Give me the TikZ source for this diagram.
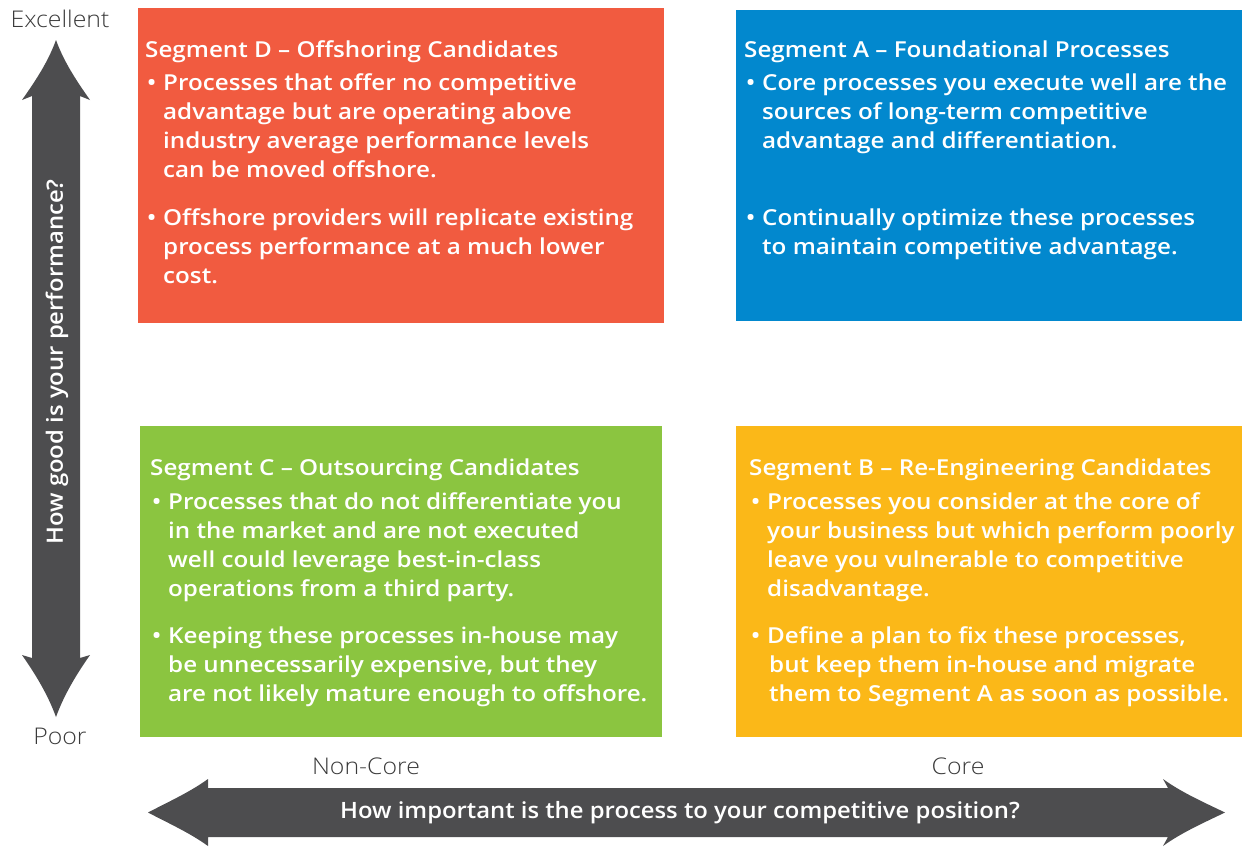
\documentclass[tikz,border=0pt]{standalone}
\usepackage{fontspec}
\setmainfont{Open Sans}
% Box text: a medium-heavy, slightly widened face
\IfFontExistsTF{Open Sans Semibold}
  {\newfontfamily\boxfont{Open Sans Semibold}[FakeStretch=1.1]}
  {\newfontfamily\boxfont{Open Sans Bold}[FakeStretch=1.1]}
% Axis questions
\IfFontExistsTF{Open Sans Semibold}
  {\newfontfamily\axisfont{Open Sans Semibold}[FakeStretch=1.06]}
  {\newfontfamily\axisfont{Open Sans}[FakeStretch=1.06]}
% Thin scale labels
\IfFontExistsTF{Open Sans Light}
  {\newfontfamily\thinfont{Open Sans Light}[FakeStretch=1.08]}
  {\newfontfamily\thinfont{Lato Light}[FakeStretch=1.08]}

\definecolor{segD}{HTML}{F15B40}
\definecolor{segA}{HTML}{0288CE}
\definecolor{segC}{HTML}{8BC540}
\definecolor{segB}{HTML}{FBB818}
\definecolor{axisgray}{HTML}{4D4D4F}
\definecolor{labelgray}{HTML}{3A3A3A}

% bullet item lines
\newlength{\bulind}
\setlength{\bulind}{18pt}
\newcommand{\bul}{\hspace*{2pt}\makebox[\dimexpr\bulind-2pt\relax][l]{\textbullet}}
\newcommand{\ind}{\hspace*{\bulind}}
\newcommand{\seglines}[1]{\vtop{\baselineskip=29pt\lineskiplimit=-100pt\lineskip=0pt #1}}

\begin{document}
\begin{tikzpicture}[x=1pt,y=-1pt,
  segbox/.style={draw=none,inner sep=0pt,anchor=north west},
  segtext/.style={inner sep=0pt,anchor=base west,text=white,
    font=\boxfont\fontsize{22}{29}\selectfont},
  axistext/.style={inner sep=0pt,text=white,font=\axisfont\fontsize{22.5}{26}\selectfont},
  scaletext/.style={inner sep=0pt,text=labelgray,font=\thinfont\fontsize{23}{27}\selectfont}]
\useasboundingbox (0,0) rectangle (1242,846);

% quadrant boxes
\node[segbox,fill=segD,minimum width=526pt,minimum height=315pt] (segDbox) at (138,8) {};
\node[segbox,fill=segA,minimum width=506pt,minimum height=311pt] (segAbox) at (736,10) {};
\node[segbox,fill=segC,minimum width=522pt,minimum height=311pt] (segCbox) at (140,426) {};
\node[segbox,fill=segB,minimum width=506pt,minimum height=311pt] (segBbox) at (736,426) {};

% vertical axis arrow
\fill[axisgray] (32,96) -- (22,100)
  .. controls (36,80) and (48,62) .. (56,40)
  .. controls (64,62) and (76,80) .. (90,100)
  -- (80,96) -- (80,658) -- (90,655)
  .. controls (76,675) and (64,695) .. (56,717)
  .. controls (48,695) and (36,675) .. (22,655)
  -- (32,658) -- cycle;

% horizontal axis arrow
\fill[axisgray] (208,788) -- (208,779)
  .. controls (190,792) and (170,801) .. (148,812.5)
  .. controls (170,824) and (190,833) .. (208,846)
  -- (208,837) -- (1168,837) -- (1163,846)
  .. controls (1181,833) and (1201,824) .. (1225,812.5)
  .. controls (1201,801) and (1181,792) .. (1163,779)
  -- (1168,788) -- cycle;

% axis texts
\node[axistext,rotate=90] (perf) at (57,362) {How good is your performance?};
\node[axistext] (importance) at (680,813) {How important is the process to your competitive position?};
\node[scaletext] (excellent) at (60,19) {Excellent};
\node[scaletext] (poor) at (60,736) {Poor};
\node[scaletext] (noncore) at (366,766) {Non-Core};
\node[scaletext] (core) at (958,766) {Core};

% Segment D
\node[segtext] (segDtext) at (145,57) {\seglines{%
  \hbox{Segment D – Offshoring Candidates}\vskip4pt
  \hbox{\bul Processes that offer no competitive}
  \hbox{\ind advantage but are operating above}
  \hbox{\ind industry average performance levels}
  \hbox{\ind can be moved offshore.}\vskip19pt
  \hbox{\bul Offshore providers will replicate existing}
  \hbox{\ind process performance at a much lower}
  \hbox{\ind cost.}}};

% Segment A
\node[segtext] (segAtext) at (744,57) {\seglines{%
  \hbox{Segment A – Foundational Processes}\vskip4pt
  \hbox{\bul Core processes you execute well are the}
  \hbox{\ind sources of long-term competitive}
  \hbox{\ind advantage and differentiation.}\vskip48pt
  \hbox{\bul Continually optimize these processes}
  \hbox{\ind to maintain competitive advantage.}}};

% Segment C
\node[segtext] (segCtext) at (150,475) {\seglines{%
  \hbox{Segment C – Outsourcing Candidates}\vskip5pt
  \hbox{\bul Processes that do not differentiate you}
  \hbox{\ind in the market and are not executed}
  \hbox{\ind well could leverage best-in-class}
  \hbox{\ind operations from a third party.}\vskip18pt
  \hbox{\bul Keeping these processes in-house may}
  \hbox{\ind be unnecessarily expensive, but they}
  \hbox{\ind are not likely mature enough to offshore.}}};

% Segment B
\node[segtext] (segBtext) at (749,475) {\seglines{%
  \hbox{Segment B – Re-Engineering Candidates}\vskip5pt
  \hbox{\bul Processes you consider at the core of}
  \hbox{\ind your business but which perform poorly}
  \hbox{\ind leave you vulnerable to competitive}
  \hbox{\ind disadvantage.}\vskip18pt
  \hbox{\bul Define a plan to fix these processes,}
  \hbox{\ind\hspace*{2pt}but keep them in-house and migrate}
  \hbox{\ind\hspace*{2pt}them to Segment A as soon as possible.}}};
\end{tikzpicture}
\end{document}
